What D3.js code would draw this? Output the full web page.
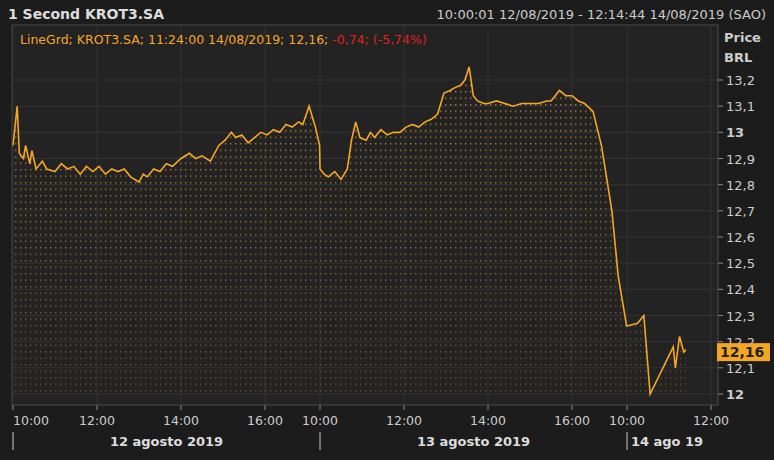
<!DOCTYPE html><html><head><meta charset="utf-8">
<script src="https://cdn.jsdelivr.net/npm/d3@7"></script>
<style>body{margin:0;background:#1c1c1c;}svg{display:block;font-family:Tahoma,"DejaVu Sans",sans-serif;}</style></head><body>
<svg id="c" width="774" height="460"></svg>
<script>
// session hours: [hour, price]
const day1 = [[10.0,12.95],[10.1,13.1],[10.15,12.92],[10.25,12.9],[10.3,12.95],[10.4,12.88],[10.45,12.93],[10.55,12.86],[10.7,12.89],[10.8,12.86],[11.0,12.85],[11.15,12.88],[11.3,12.86],[11.45,12.87],[11.6,12.84],[11.75,12.87],[11.9,12.85],[12.05,12.87],[12.2,12.84],[12.35,12.86],[12.5,12.85],[12.65,12.86],[12.8,12.83],[13.0,12.81],[13.1,12.84],[13.2,12.83],[13.35,12.86],[13.5,12.85],[13.65,12.88],[13.8,12.87],[14.0,12.9],[14.2,12.92],[14.35,12.9],[14.5,12.91],[14.7,12.89],[14.9,12.95],[15.05,12.97],[15.2,13.0],[15.3,12.98],[15.45,12.99],[15.6,12.96],[15.75,12.98],[15.9,13.0],[16.05,12.99],[16.2,13.01],[16.35,13.0],[16.5,13.03],[16.65,13.02],[16.8,13.04],[16.9,13.03],[17.05,13.1],[17.2,13.02],[17.3,12.95]];
const day2 = [[10.0,12.86],[10.1,12.84],[10.2,12.83],[10.35,12.85],[10.5,12.82],[10.65,12.86],[10.75,12.97],[10.85,13.04],[10.95,12.98],[11.1,12.97],[11.2,13.0],[11.3,12.98],[11.45,13.01],[11.6,12.99],[11.75,13.0],[11.9,13.0],[12.05,13.02],[12.2,13.03],[12.35,13.02],[12.5,13.04],[12.65,13.05],[12.8,13.07],[12.95,13.15],[13.1,13.16],[13.2,13.17],[13.35,13.18],[13.45,13.2],[13.55,13.25],[13.65,13.14],[13.75,13.12],[13.9,13.11],[14.0,13.11],[14.2,13.12],[14.4,13.11],[14.6,13.1],[14.8,13.11],[15.0,13.11],[15.2,13.11],[15.4,13.12],[15.5,13.12],[15.7,13.16],[15.85,13.14],[16.0,13.14],[16.15,13.12],[16.3,13.11],[16.5,13.08],[16.7,12.95],[16.95,12.7],[17.1,12.45],[17.3,12.26]];
const day3 = [[10.0,12.26],[10.25,12.27],[10.4,12.3],[10.45,12.2],[10.55,12.0],[11.1,12.18],[11.15,12.1],[11.25,12.22],[11.35,12.16],[11.4,12.17]];
const days = [day1, day2, day3];
const dayStart = [0, 7.31, 14.62];
const xTicks = [[0,10],[0,12],[0,14],[0,16],[1,10],[1,12],[1,14],[1,16],[2,10],[2,12]];
const yTicks = [12,12.1,12.2,12.3,12.4,12.5,12.6,12.7,12.8,12.9,13,13.1,13.2];
const dateLabels = [["12 agosto 2019",0],["13 agosto 2019",1],["14 ago 19",2]];
const lastPrice = 12.16;

const svg = d3.select("#c");
const L=12,R=718,T=25,B=405;
const x = d3.scaleLinear().domain([0,1]).range([13,55]);
const X = (d,h)=>x(dayStart[d]+h-10);
const y = d3.scaleLinear().domain([12,13.2]).range([394,80]);
svg.append("rect").attr("x",L).attr("y",T).attr("width",R-L).attr("height",B-T).attr("fill","#232323").attr("stroke","#4a4a4a");
svg.append("g").selectAll("line").data(yTicks).join("line").attr("x1",L).attr("x2",R).attr("y1",d=>y(d)).attr("y2",d=>y(d)).attr("stroke","#333");
svg.append("g").selectAll("line").data(xTicks).join("line").attr("x1",d=>X(d[0],d[1])).attr("x2",d=>X(d[0],d[1])).attr("y1",T).attr("y2",B).attr("stroke","#333");
const defs=svg.append("defs");
const pat=defs.append("pattern").attr("id","dots").attr("width",5).attr("height",6.5).attr("patternUnits","userSpaceOnUse");
pat.append("rect").attr("width",1.4).attr("height",1.4).attr("fill","#d89030");
const g=defs.append("linearGradient").attr("id","fade").attr("x1",0).attr("x2",0).attr("gradientUnits","userSpaceOnUse").attr("y1",60).attr("y2",400);
g.append("stop").attr("offset",0).attr("stop-color","#fff").attr("stop-opacity",0.9);
g.append("stop").attr("offset",1).attr("stop-color","#fff").attr("stop-opacity",0.35);
defs.append("mask").attr("id","m").append("rect").attr("x",0).attr("y",0).attr("width",774).attr("height",460).attr("fill","url(#fade)");
const pts=[];days.forEach((dd,i)=>dd.forEach(p=>pts.push([X(i,p[0]),y(p[1])])));
const area=d3.area().x(d=>d[0]).y0(y(12)).y1(d=>d[1]);
svg.append("path").attr("d",area(pts)).attr("fill","url(#dots)").attr("mask","url(#m)");
svg.append("path").attr("d",d3.line()(pts)).attr("fill","none").attr("stroke","#f5a623").attr("stroke-width",1.6);
const ya=svg.append("g");
yTicks.forEach(v=>{
 ya.append("line").attr("x1",R).attr("x2",R+5).attr("y1",y(v)).attr("y2",y(v)).attr("stroke","#888");
 ya.append("text").attr("x",R+8).attr("y",y(v)+5).attr("fill","#ccc").attr("font-size",13).attr("font-weight",Number.isInteger(v)?"bold":"normal").text(String(v).replace(".",","));
});
svg.append("text").attr("x",724).attr("y",42).attr("fill","#ccc").attr("font-size",13).attr("font-weight","bold").text("Price");
svg.append("text").attr("x",724).attr("y",62).attr("fill","#ccc").attr("font-size",13).attr("font-weight","bold").text("BRL");
svg.append("rect").attr("x",717).attr("y",y(lastPrice)-9).attr("width",53).attr("height",18).attr("fill","#f5a623");
svg.append("text").attr("x",720).attr("y",y(lastPrice)+5).attr("fill","#222").attr("font-size",14).attr("font-weight","bold").text(String(lastPrice).replace(".",","));
xTicks.forEach((t,i)=>{const px=X(t[0],t[1]);
 svg.append("line").attr("x1",px).attr("x2",px).attr("y1",B).attr("y2",B+5).attr("stroke","#888");
 svg.append("text").attr("x",i===0?px:px).attr("y",B+20).attr("text-anchor",i===0?"start":"middle").attr("fill","#ccc").attr("font-size",12.5).text(String(t[1]).padStart(2,"0")+":00");
});
dateLabels.forEach(([s,d],i)=>{const px=X(d,10);
 svg.append("line").attr("x1",px).attr("x2",px).attr("y1",432).attr("y2",450).attr("stroke","#ccc");
 const cx=i<2?(px+X(d,17.31))/2:px+40;
 svg.append("text").attr("x",cx).attr("y",446).attr("text-anchor","middle").attr("fill","#ddd").attr("font-size",13).attr("font-weight","bold").text(s);
});
svg.append("text").attr("x",8).attr("y",19).attr("fill","#ddd").attr("font-size",14).attr("font-weight","bold").text("1 Second KROT3.SA");
svg.append("text").attr("x",766).attr("y",19).attr("text-anchor","end").attr("fill","#ccc").attr("font-size",13).text("10:00:01 12/08/2019 - 12:14:44 14/08/2019 (SAO)");
const lg=svg.append("text").attr("x",20).attr("y",44).attr("font-size",12.5);
lg.append("tspan").attr("fill","#f5a623").text("LineGrd; KROT3.SA;  11:24:00 14/08/2019;  12,16; ");
lg.append("tspan").attr("fill","#e02020").text("-0,74;  (-5,74%)");
</script></body></html>
